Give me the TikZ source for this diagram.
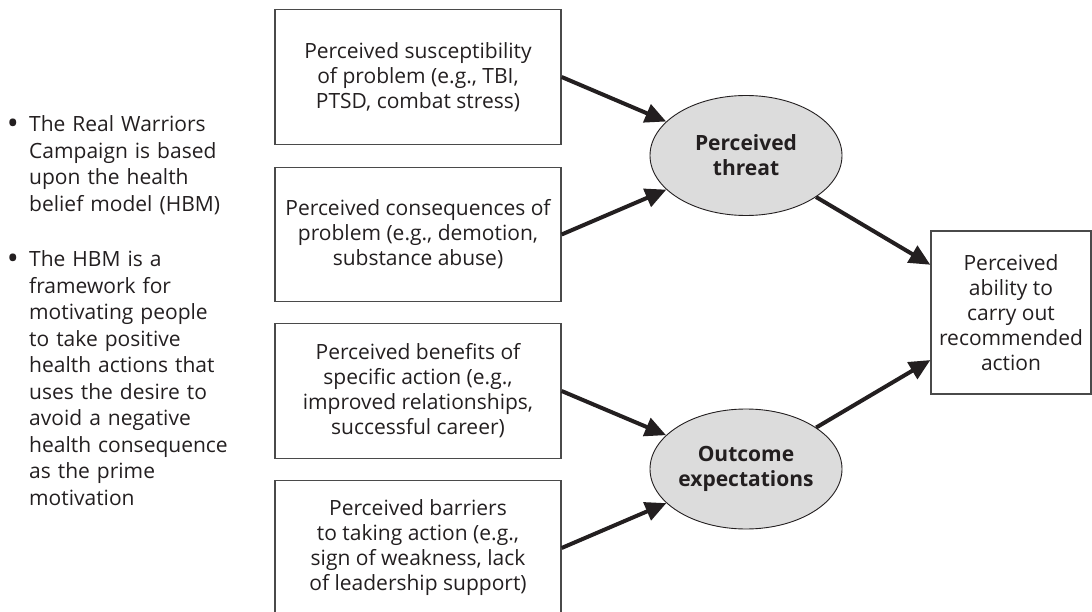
\documentclass[tikz,border=0pt]{standalone}
\usepackage{fontspec}
\setmainfont{Open Sans}
\usetikzlibrary{shapes.geometric,arrows.meta}
\definecolor{ink}{HTML}{231F20}
\definecolor{edge}{HTML}{4A4A4A}
\definecolor{ellfill}{HTML}{DCDCDC}
\tikzset{
  factorbox/.style={draw=edge, line width=1.3pt, minimum width=286pt, minimum height=134.5pt, inner sep=0pt, align=center, text=ink, font=\fontsize{21}{25}\selectfont},
  outcomebox/.style={draw=edge, line width=1.3pt, minimum width=160pt, minimum height=163pt, inner sep=0pt, align=center, text=ink, font=\fontsize{21}{25}\selectfont},
  construct/.style={ellipse, draw=ink, line width=0.9pt, fill=ellfill, minimum width=192pt, minimum height=120pt, inner sep=0pt, align=center, text=ink, font=\fontsize{21}{25}\selectfont\bfseries},
  bullettext/.style={anchor=base west, text width=215pt, align=left, inner sep=0pt, text=ink, font=\fontsize{21}{26.5}\selectfont},
  bulletdot/.style={anchor=base, inner sep=0pt, text=ink, font=\fontsize{32}{26.5}\selectfont},
  link/.style={line width=4pt, draw=ink, -{Triangle[length=21pt,width=19pt]}, shorten >=0pt}
}
\begin{document}
\begin{tikzpicture}[x=1pt,y=-1pt]
\useasboundingbox (0,0) rectangle (1092,612);
% bullets
\node[bulletdot] (d1) at (13,135) {•};
\node[bullettext] (t1) at (29,132) {The Real Warriors\\Campaign is based\\upon the health\\belief model (HBM)};
\node[bulletdot] (d2) at (13,270) {•};
\node[bullettext] (t2) at (29,267) {The HBM is a\\framework for\\motivating people\\to take positive\\health actions that\\uses the desire to\\avoid a negative\\health consequence\\as the prime\\motivation};
% factor boxes
\node[factorbox] (b1) at (418,77) {Perceived susceptibility\\of problem (e.g., TBI,\\PTSD, combat stress)};
\node[factorbox] (b2) at (418,234.5) {Perceived consequences of\\problem (e.g., demotion,\\substance abuse)};
\node[factorbox] (b3) at (418,391) {Perceived benefits of\\specific action (e.g.,\\improved relationships,\\successful career)};
\node[factorbox] (b4) at (418,548) {Perceived barriers\\to taking action (e.g.,\\sign of weakness, lack\\of leadership support)};
% constructs
\node[construct] (e1) at (746,155.5) {Perceived\\threat};
\node[construct] (e2) at (746,469) {Outcome\\expectations};
% outcome
\node[outcomebox] (rb) at (1011,312.5) {Perceived\\ability to\\carry out\\recommended\\action};
% links
\draw[link] (b1.east) -- (e1);
\draw[link] (b2.east) -- (e1);
\draw[link] (b3.east) -- (e2);
\draw[link] (b4.east) -- (e2);
\draw[link] (e1) -- (rb);
\draw[link] (e2) -- (rb);
\end{tikzpicture}
\end{document}
